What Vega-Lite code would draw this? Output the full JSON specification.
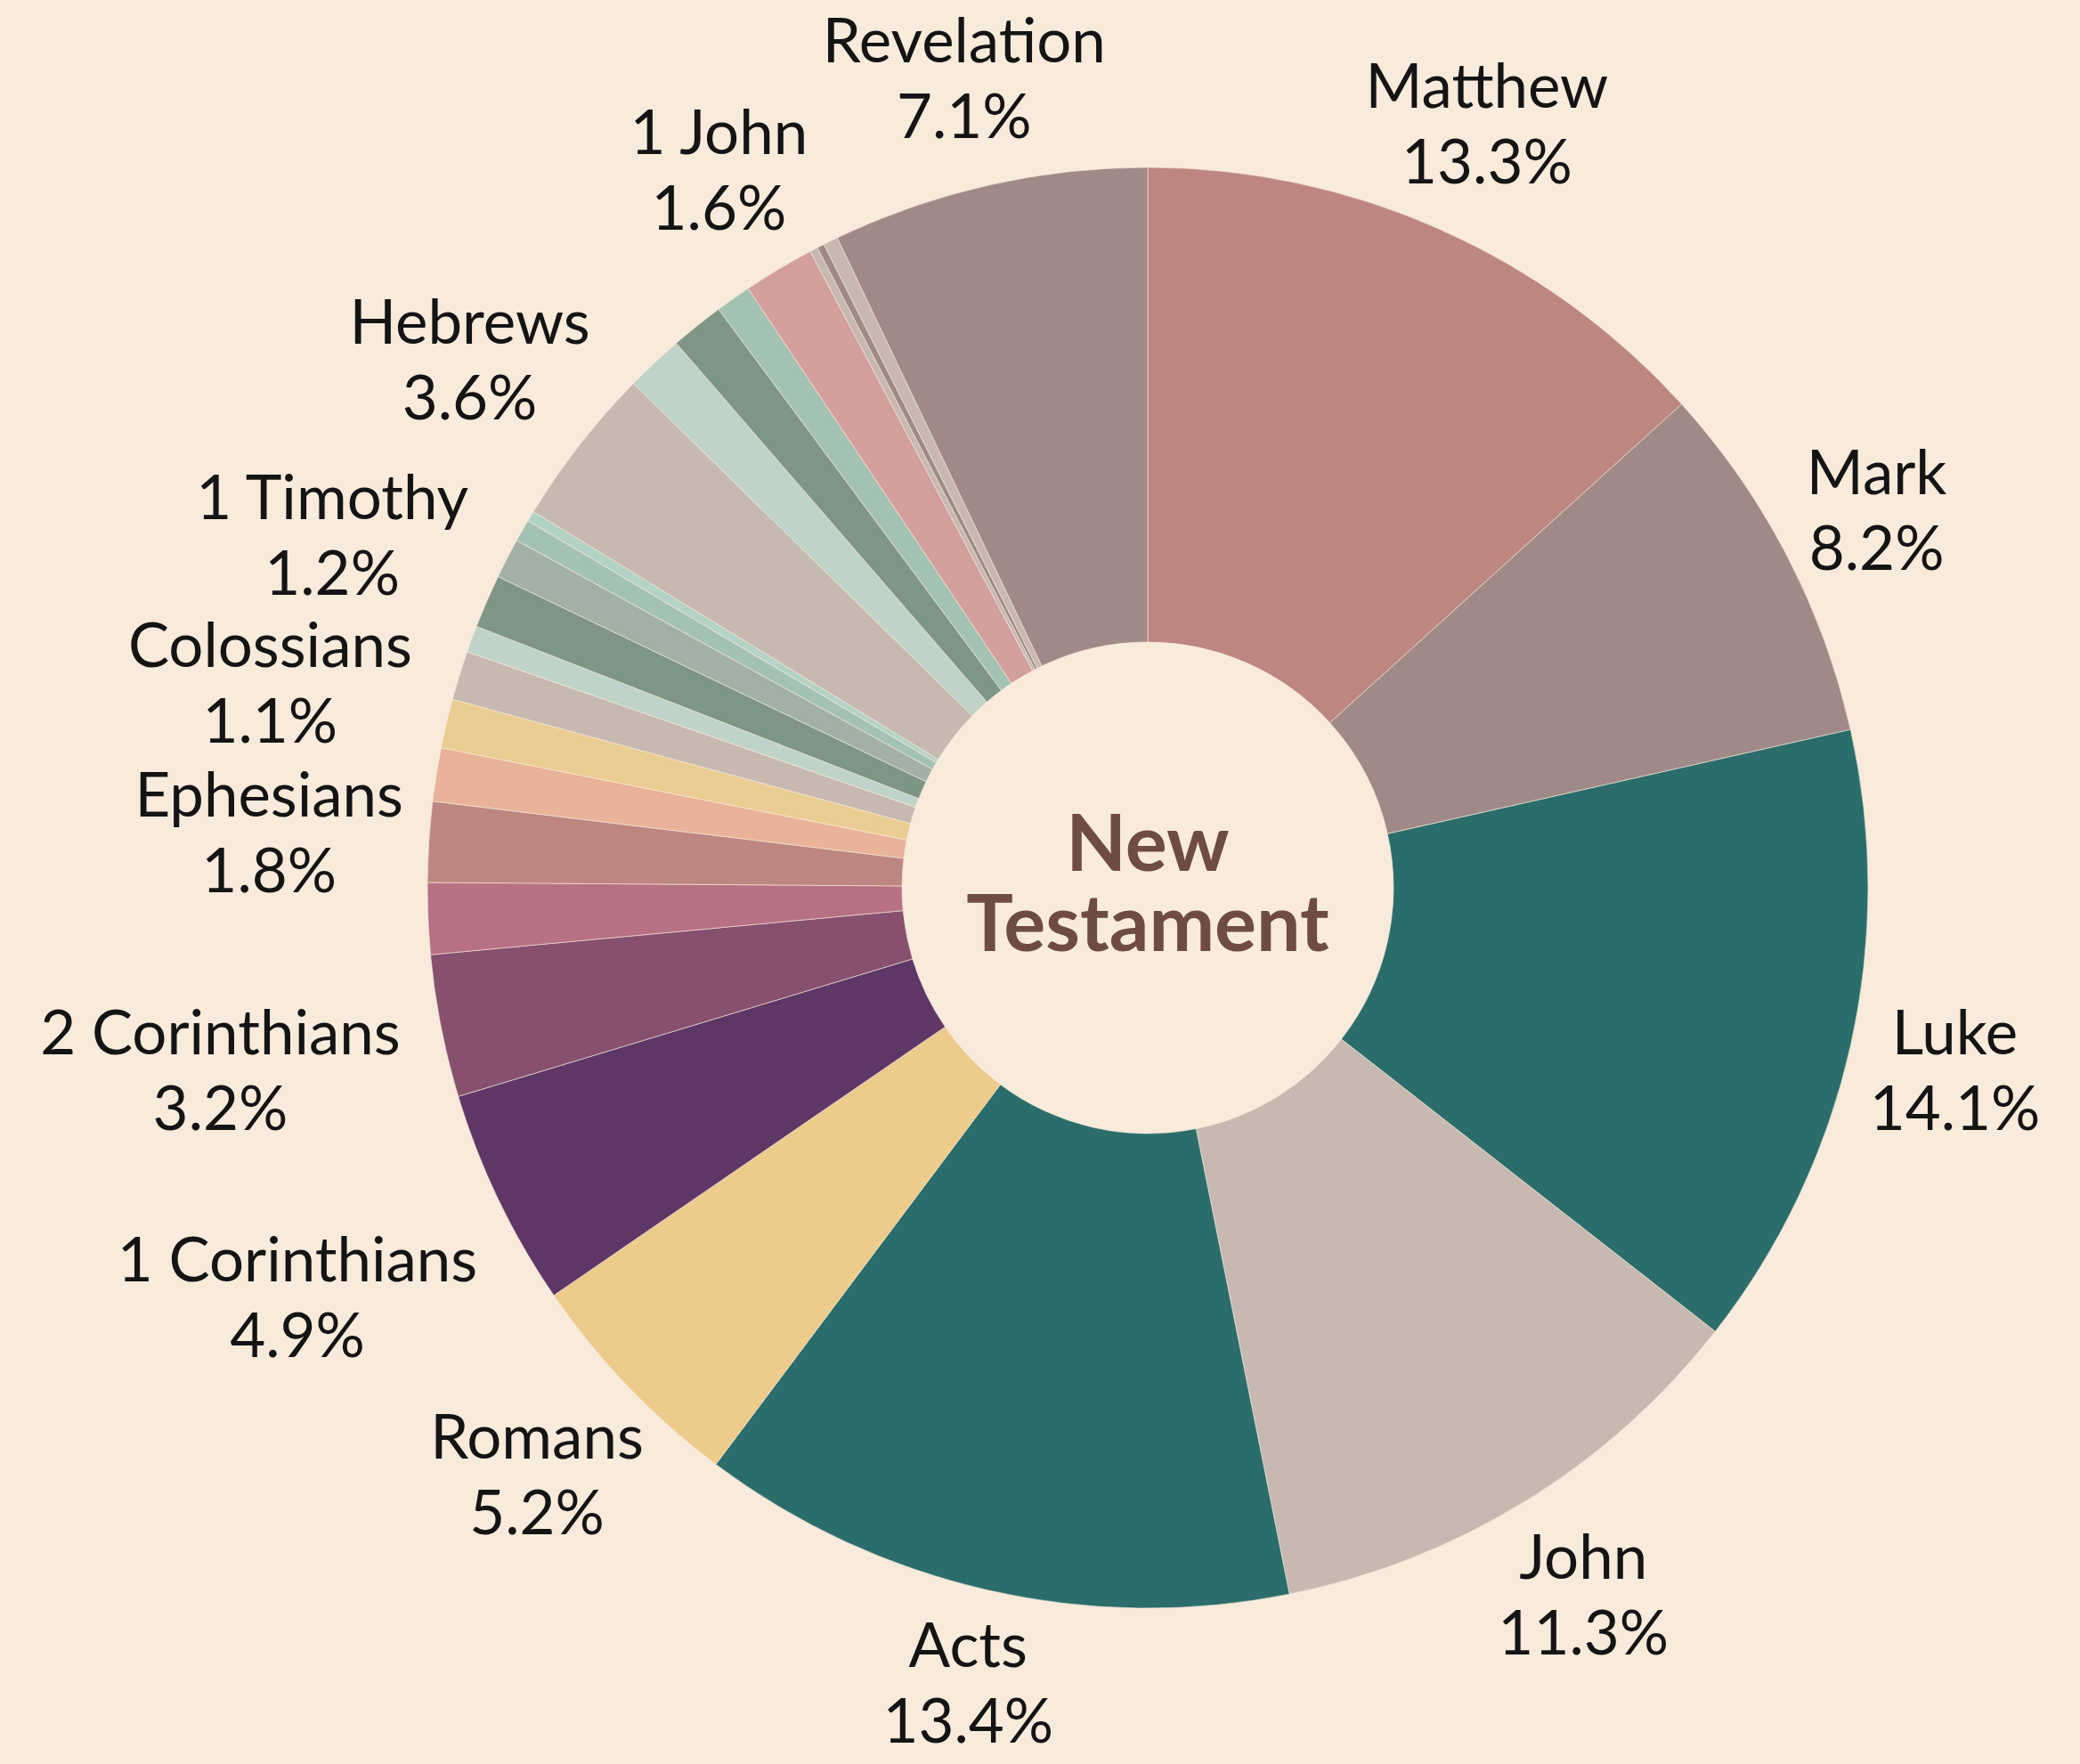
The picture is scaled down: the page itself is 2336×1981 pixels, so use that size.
{
  "$schema": "https://vega.github.io/schema/vega-lite/v6.json",
  "width": 2094,
  "height": 1968,
  "autosize": "none",
  "padding": {"left": 242, "right": 0, "top": 13, "bottom": 0},
  "background": "#f8ebdc",
  "config": {"view": {"stroke": null}, "font": "Lato"},
  "layer": [
    {
      "data": {"values": [
        {"book": "Matthew", "share": 13.3},
        {"book": "Mark", "share": 8.2},
        {"book": "Luke", "share": 14.1},
        {"book": "John", "share": 11.3},
        {"book": "Acts", "share": 13.4},
        {"book": "Romans", "share": 5.2},
        {"book": "1 Corinthians", "share": 4.9},
        {"book": "2 Corinthians", "share": 3.2},
        {"book": "Galatians", "share": 1.6},
        {"book": "Ephesians", "share": 1.8},
        {"book": "Philippians", "share": 1.2},
        {"book": "Colossians", "share": 1.1},
        {"book": "1 Thessalonians", "share": 1.1},
        {"book": "2 Thessalonians", "share": 0.6},
        {"book": "1 Timothy", "share": 1.2},
        {"book": "2 Timothy", "share": 0.9},
        {"book": "Titus", "share": 0.5},
        {"book": "Philemon", "share": 0.24},
        {"book": "Hebrews", "share": 3.6},
        {"book": "James", "share": 1.3},
        {"book": "1 Peter", "share": 1.2},
        {"book": "2 Peter", "share": 0.8},
        {"book": "1 John", "share": 1.6},
        {"book": "2 John", "share": 0.18},
        {"book": "3 John", "share": 0.16},
        {"book": "Jude", "share": 0.33},
        {"book": "Revelation", "share": 7.1}
      ]},
      "transform": [
        {"window": [{"op": "row_number", "as": "i"}]},
        {"joinaggregate": [{"op": "sum", "field": "share", "as": "total"}]},
        {"window": [{"op": "sum", "field": "share", "as": "cum"}], "sort": [{"field": "i"}], "frame": [null, 0]},
        {"calculate": "(datum.cum - datum.share / 2) / datum.total * 2 * PI", "as": "mid"},
        {"calculate": "format(datum.share, '.1f') + '%'", "as": "pct"},
        {"calculate": "indexof(['Matthew','Mark','Luke','John','Acts','Romans','1 Corinthians','2 Corinthians','Ephesians','Colossians','1 Timothy','Hebrews','1 John','Revelation'], datum.book) >= 0 ? datum.book + '\\n' + datum.pct : ''", "as": "label"},
        {"calculate": "832 + 17 * max(length(datum.book), length(datum.pct)) * abs(sin(datum.mid)) + 65 * abs(cos(datum.mid))", "as": "lr"}
      ],
      "layer": [
        {
          "mark": {"type": "arc", "outerRadius": 809, "innerRadius": 276, "stroke": "#f8ebdc", "strokeWidth": 1, "strokeOpacity": 0.6},
          "encoding": {
            "theta": {"field": "share", "type": "quantitative", "stack": true},
            "order": {"field": "i", "type": "quantitative"},
            "color": {
              "field": "book", "type": "nominal", "legend": null,
              "scale": {
                "domain": ["Matthew","Mark","Luke","John","Acts","Romans","1 Corinthians","2 Corinthians","Galatians","Ephesians","Philippians","Colossians","1 Thessalonians","2 Thessalonians","1 Timothy","2 Timothy","Titus","Philemon","Hebrews","James","1 Peter","2 Peter","1 John","2 John","3 John","Jude","Revelation"],
                "range": ["#bd8681","#a08a87","#2b6d6b","#c7b9b0","#2b6d6b","#eccb8b","#5e3766","#87506f","#b87084","#bd8681","#e8b398","#eacd92","#c7b9b0","#bfd3c9","#7f9686","#a2b0a6","#a4c2b4","#b3d3c6","#c7b9b0","#bfd3c9","#7f9686","#a4c2b4","#d29f9c","#c7b9b0","#a08a87","#c7b9b0","#a08a87"]
              }
            }
          }
        },
        {
          "mark": {"type": "text", "fontSize": 69, "fontWeight": "normal", "lineBreak": "\n", "lineHeight": 85, "dy": -38, "align": "center", "baseline": "middle", "color": "#141414"},
          "encoding": {
            "theta": {"field": "mid", "type": "quantitative", "scale": null, "stack": null},
            "radius": {"field": "lr", "type": "quantitative", "scale": null, "stack": null},
            "text": {"field": "label", "type": "nominal"}
          }
        }
      ]
    },
    {
      "data": {"values": [{}]},
      "mark": {"type": "text", "text": ["New", "Testament"], "fontSize": 88, "fontWeight": "bold", "lineHeight": 90, "dy": -45, "align": "center", "baseline": "middle", "color": "#6f4c43"},
      "encoding": {}
    }
  ]
}
